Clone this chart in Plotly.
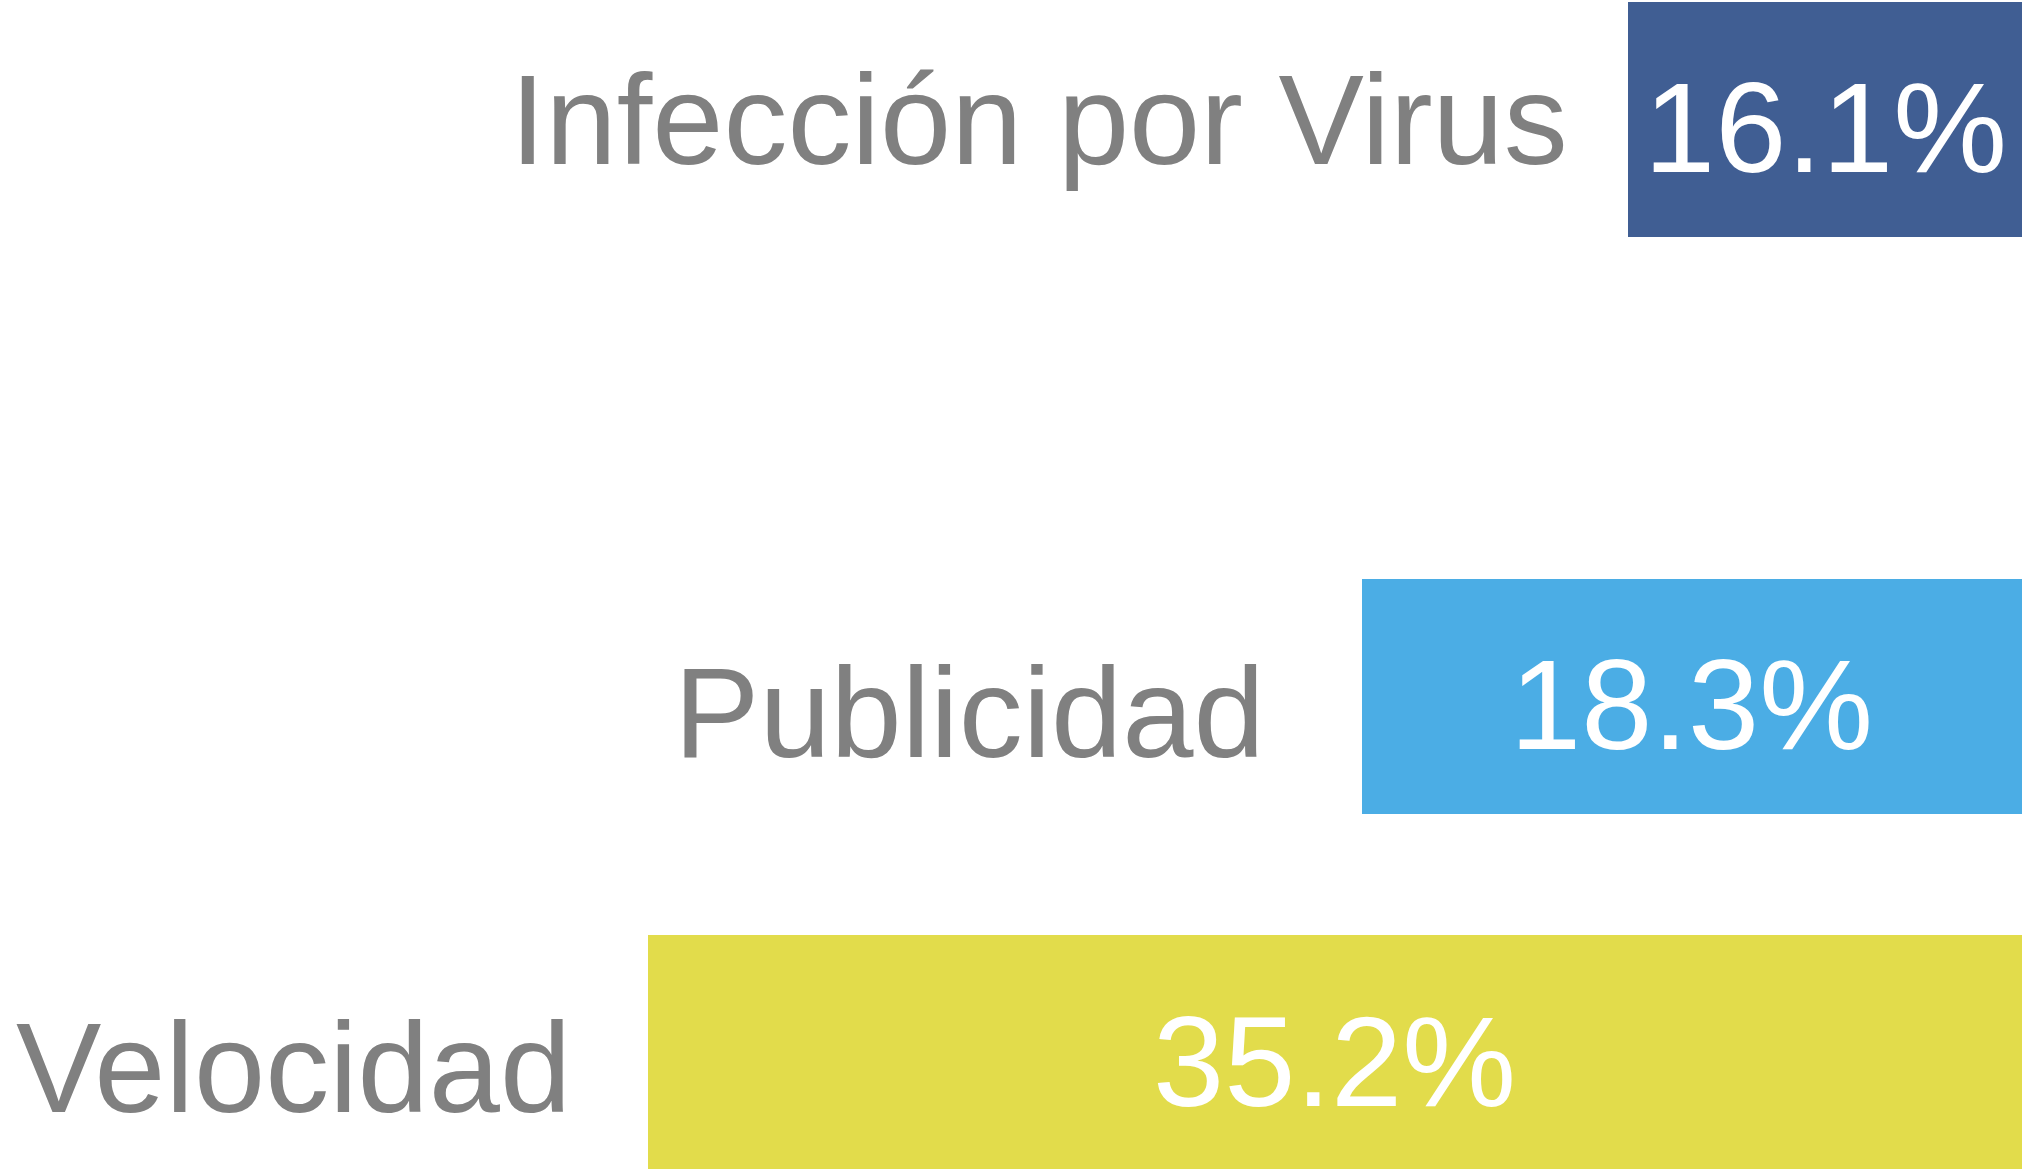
import plotly.graph_objects as go

# data (rows from top to bottom)
labels = ["Infección por Virus", "Publicidad", "Velocidad"]
shares = [16.1, 18.3, 35.2]          # printed percentages
bar_length = [10.09, 16.91, 35.2]    # drawn lengths, same scale as Velocidad
row_pos = [0.5085, 2.964, 4.479]     # row centres, in bar-height units

colors = ["#405E93", "#4BADE5", "#E2DC4B"]
LABEL_GREY = "#808080"

# per-row text tweaks (px): gap label->bar, vertical nudges
label_gap = [58, 95, 75]
label_dy = [0, -16, -15]
value_dy = [-8, -8, -9]

fig = go.Figure()
fig.add_trace(go.Bar(
    x=bar_length, y=row_pos, orientation="h", width=1,
    marker=dict(color=colors, line=dict(width=0)),
    hoverinfo="skip", showlegend=False,
))

annotations = []
for i, lab in enumerate(labels):
    annotations.append(dict(
        x=bar_length[i], y=row_pos[i], xref="x", yref="y",
        text=lab, showarrow=False, xanchor="right", yanchor="middle",
        xshift=-label_gap[i], yshift=label_dy[i],
        font=dict(family="Liberation Sans", size=128, color=LABEL_GREY),
    ))
    annotations.append(dict(
        x=bar_length[i] / 2, y=row_pos[i], xref="x", yref="y",
        text=f"{shares[i]:.1f}%", showarrow=False,
        xanchor="center", yanchor="middle", yshift=value_dy[i],
        font=dict(family="Liberation Sans", size=128, color="white"),
    ))

fig.update_layout(
    width=2025, height=1169,
    margin=dict(l=0, r=0, t=0, b=0),
    paper_bgcolor="white", plot_bgcolor="white",
    bargap=0,
    annotations=annotations,
    xaxis=dict(range=[51.80, -0.077], visible=False, fixedrange=True),
    yaxis=dict(range=[1169 / 235, 0], visible=False, fixedrange=True),
)

fig.write_html("out.html", config={"displayModeBar": False},
               post_script="document.body.style.margin='0';")
